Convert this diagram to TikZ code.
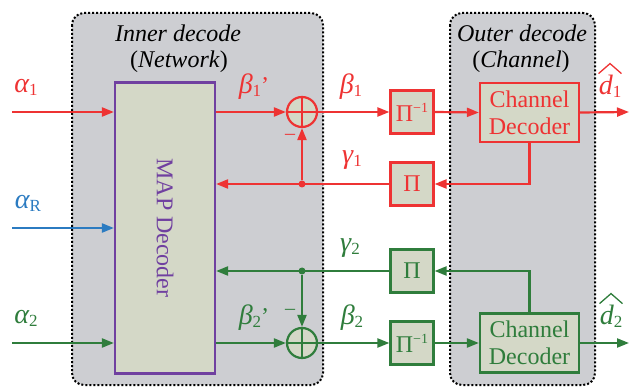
\documentclass[tikz,border=0pt]{standalone}
\usepackage{fontspec}
\setmainfont{Liberation Serif}
\usetikzlibrary{arrows.meta}
\definecolor{cred}{HTML}{EE3333}
\definecolor{cgreen}{HTML}{2F7D3C}
\definecolor{cblue}{HTML}{2B7BC1}
\definecolor{cpurple}{HTML}{7040A0}
\definecolor{cgray}{HTML}{CDCED2}
\definecolor{cbox}{HTML}{D4D8C7}
\newcommand\glab[2]{{\fontsize{28}{28}\selectfont\itshape #1}{\fontsize{17}{17}\selectfont\raisebox{-3pt}{#2}}}
\newcommand\pinv{Π\raisebox{9pt}{\fontsize{14}{14}\selectfont −1}}
\newcommand\prm{{\fontsize{24}{24}\selectfont\char"0027}}
\tikzset{
 region/.style={draw=black, line width=2pt, dash pattern=on 2pt off 2pt, fill=cgray, rounded corners=12pt},
 blk/.style={draw, line width=2.2pt, fill=cbox, inner sep=0pt},
 sq/.style={blk, minimum width=43pt, minimum height=43pt, font=\fontsize{24}{24}\selectfont},
 cdbox/.style={blk, minimum width=99pt, minimum height=59pt, align=center, font=\fontsize{24}{27}\selectfont},
 xorc/.style={draw, line width=2.2pt, fill=cbox, circle, minimum size=30pt, inner sep=0pt},
 sig/.style={line width=2.2pt, -{Triangle[length=12pt,width=9pt]}},
 wire/.style={line width=2.2pt},
 lab/.style={inner sep=0pt},
 hdr/.style={inner sep=0pt, font=\fontsize{24}{24}\selectfont},
 jdot/.style={circle, fill, inner sep=0pt, minimum size=7pt},
 hat/.style={line width=1.3pt, line join=miter},
}
\begin{document}
\begin{tikzpicture}[x=1pt,y=-1pt]
\useasboundingbox (0,0) rectangle (629,387);
% regions
\path[region] (72,13) rectangle (323,385);
\path[region] (450,13) rectangle (595,385);
\node[hdr] (inT) at (178,33) {\itshape Inner decode};
\node[hdr] (inN) at (179,62) {(\textit{Network})};
\node[hdr] (outT) at (522,33) {\itshape Outer decode};
\node[hdr] (outN) at (521,62) {(\textit{Channel})};
% MAP
\node[blk, draw=cpurple, minimum width=100pt, minimum height=291pt] (map) at (165,228) {};
\node[rotate=-90, text=cpurple, font=\fontsize{24}{24}\selectfont] (maplbl) at (map.center) {MAP Decoder};
% ---------- red ----------
\node[xorc, draw=cred] (x1) at (302,112) {};
\draw[wire, cred] (x1.north) -- (x1.south) (x1.west) -- (x1.east);
\node[sq, draw=cred, text=cred] (pi1inv) at (412,112) {\pinv};
\node[cdbox, draw=cred, text=cred] (cd1) at (529.5,112.5) {Channel\\Decoder};
\node[sq, draw=cred, text=cred] (pi1) at (412,184) {Π};
\coordinate (in1) at (12,112);
\coordinate (out1) at (629,112);
\node[jdot, cred] (j1) at (302,184) {};
\draw[sig, cred] (in1) -- (map.west |- in1);
\draw[sig, cred] (map.east |- x1) -- (x1.west);
\draw[sig, cred] (x1.east) -- (pi1inv.west);
\draw[sig, cred] (pi1inv.east) -- (cd1.west);
\draw[sig, cred] (cd1.east) -- (out1);
\draw[sig, cred] (cd1.south) |- (pi1.east);
\draw[sig, cred] (pi1.west) -- (map.east |- pi1.west);
\draw[sig, cred] (j1) -- (x1.south);
\node[lab, text=cred] (la1) at (26,87) {\glab{α}{1}};
\node[lab, text=cred] (lb1p) at (254,87) {\glab{β}{1}\prm};
\node[lab, text=cred] (lb1) at (351,87) {\glab{β}{1}};
\node[lab, text=cred] (lg1) at (352,160) {\glab{γ}{1}};
\node[lab, text=cred] (ld1) at (610,86) {\glab{d}{1}};
\draw[hat, cred] ([yshift=1pt]ld1.north west) -- ([yshift=11pt]ld1.north) -- ([yshift=1pt]ld1.north east);
\node[lab, text=cred, font=\fontsize{20}{20}\selectfont] (m1) at (290,137) {–};
% ---------- blue ----------
\coordinate (inR) at (12,228);
\draw[sig, cblue] (inR) -- (map.west |- inR);
\node[lab, text=cblue] (laR) at (28,203) {\glab{α}{R}};
% ---------- green ----------
\node[xorc, draw=cgreen] (x2) at (302,343) {};
\draw[wire, cgreen] (x2.north) -- (x2.south) (x2.west) -- (x2.east);
\node[sq, draw=cgreen, text=cgreen] (pi2inv) at (412,343) {\pinv};
\node[cdbox, draw=cgreen, text=cgreen] (cd2) at (529.5,343) {Channel\\Decoder};
\node[sq, draw=cgreen, text=cgreen] (pi2) at (412,271) {Π};
\coordinate (in2) at (12,343);
\coordinate (out2) at (629,343);
\node[jdot, cgreen] (j2) at (302,271) {};
\draw[sig, cgreen] (in2) -- (map.west |- in2);
\draw[sig, cgreen] (map.east |- x2) -- (x2.west);
\draw[sig, cgreen] (x2.east) -- (pi2inv.west);
\draw[sig, cgreen] (pi2inv.east) -- (cd2.west);
\draw[sig, cgreen] (cd2.east) -- (out2);
\draw[sig, cgreen] (cd2.north) |- (pi2.east);
\draw[sig, cgreen] (pi2.west) -- (map.east |- pi2.west);
\draw[sig, cgreen] (j2) -- (x2.north);
\node[lab, text=cgreen] (la2) at (26,318) {\glab{α}{2}};
\node[lab, text=cgreen] (lb2p) at (254,318) {\glab{β}{2}\prm};
\node[lab, text=cgreen] (lb2) at (352,318) {\glab{β}{2}};
\node[lab, text=cgreen] (lg2) at (350,248) {\glab{γ}{2}};
\node[lab, text=cgreen] (ld2) at (611,316) {\glab{d}{2}};
\draw[hat, cgreen] ([yshift=1pt]ld2.north west) -- ([yshift=11pt]ld2.north) -- ([yshift=1pt]ld2.north east);
\node[lab, text=cgreen, font=\fontsize{20}{20}\selectfont] (m2) at (290,312) {–};
\end{tikzpicture}
\end{document}
